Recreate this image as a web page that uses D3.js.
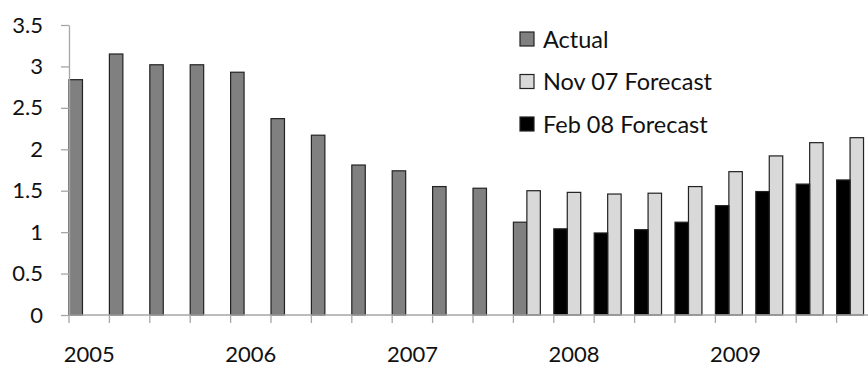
<!DOCTYPE html>
<html>
<head>
<meta charset="utf-8">
<script src="https://cdn.jsdelivr.net/npm/d3@7"></script>
<style>
  html, body { margin: 0; padding: 0; background: #fff; }
  svg { display: block; }
  text { font-family: Lato, "Open Sans", sans-serif; fill: #111; }
</style>
</head>
<body>
<svg id="chart" width="868" height="366"></svg>
<script>
// Quarterly series, 2005 Q1 .. 2009 Q4
const quarters = [
  "2005Q1","2005Q2","2005Q3","2005Q4",
  "2006Q1","2006Q2","2006Q3","2006Q4",
  "2007Q1","2007Q2","2007Q3","2007Q4",
  "2008Q1","2008Q2","2008Q3","2008Q4",
  "2009Q1","2009Q2","2009Q3","2009Q4"
];
const yearLabels = [
  "2005","","","",
  "2006","","","",
  "2007","","","",
  "2008","","","",
  "2009","","",""
];
const actual = [2.84, 3.15, 3.02, 3.02, 2.93, 2.37, 2.17, 1.81, 1.74, 1.55, 1.53, 1.12,
                null, null, null, null, null, null, null, null];
const nov07 = [null, null, null, null, null, null, null, null, null, null, null, 1.50,
               1.48, 1.46, 1.47, 1.55, 1.73, 1.92, 2.08, 2.14];
const feb08 = [null, null, null, null, null, null, null, null, null, null, null, null,
               1.04, 0.99, 1.03, 1.12, 1.32, 1.49, 1.58, 1.63];
const yTicks = [0, 0.5, 1, 1.5, 2, 2.5, 3, 3.5];

const seriesNames = ["Actual", "Nov 07 Forecast", "Feb 08 Forecast"];
const seriesColors = ["#808080", "#d9d9d9", "#000000"];

const svg = d3.select("#chart");
const plotLeft = 69, plotRight = 877, plotTop = 25, plotBottom = 315;

const x = d3.scaleBand().domain(quarters).range([plotLeft, plotRight]).padding(0);
// three slots per quarter: first slot shared by actual and Feb 08, second for Nov 07
const slot = d3.scaleBand().domain(["a", "b", "c"]).range([0, x.bandwidth()]).padding(0);
const y = d3.scaleLinear().domain([0, 3.5]).range([plotBottom, plotTop]);
const idx = d3.scaleLinear().domain([0, quarters.length]).range([plotLeft, plotRight]);

// bars
const layers = [
  { name: seriesNames[0], values: actual, color: seriesColors[0], slot: "a" },
  { name: seriesNames[1], values: nov07, color: seriesColors[1], slot: "b" },
  { name: seriesNames[2], values: feb08, color: seriesColors[2], slot: "a" }
];
layers.forEach(layer => {
  const pts = quarters.map((q, i) => ({ q, v: layer.values[i] })).filter(d => d.v != null);
  svg.append("g")
    .selectAll("rect")
    .data(pts)
    .join("rect")
    .attr("x", d => x(d.q) + slot(layer.slot))
    .attr("y", d => y(d.v))
    .attr("width", slot.bandwidth())
    .attr("height", d => y(0) - y(d.v))
    .attr("fill", layer.color)
    .attr("stroke", "#222")
    .attr("stroke-width", 1.2);
});

// y axis
const yAxis = d3.axisLeft(y).tickValues(yTicks).tickSize(8).tickSizeOuter(0).tickPadding(18)
  .tickFormat(d => String(d));
const gy = svg.append("g").attr("transform", `translate(${plotLeft},0)`).call(yAxis);
gy.select(".domain").attr("stroke", "#a6a6a6").attr("stroke-width", 1.3);
gy.selectAll(".tick line").attr("stroke", "#a6a6a6").attr("stroke-width", 1.3);
gy.selectAll(".tick text").attr("font-size", 22).attr("font-family", "Lato, sans-serif").attr("fill", "#111");

// x axis: baseline, boundary ticks, year labels
svg.append("line")
  .attr("x1", plotLeft).attr("x2", 868)
  .attr("y1", y(0)).attr("y2", y(0))
  .attr("stroke", "#a6a6a6").attr("stroke-width", 1.3);
svg.append("g").selectAll("line")
  .data(d3.range(0, quarters.length + 1))
  .join("line")
  .attr("x1", d => idx(d)).attr("x2", d => idx(d))
  .attr("y1", y(0)).attr("y2", y(0) + 8)
  .attr("stroke", "#a6a6a6").attr("stroke-width", 1.3);
svg.append("g").selectAll("text")
  .data(quarters.map((q, i) => ({ q, label: yearLabels[i] })).filter(d => d.label))
  .join("text")
  .attr("x", d => x(d.q) + x.bandwidth() / 2)
  .attr("y", 362)
  .attr("text-anchor", "middle")
  .attr("font-size", 22)
  .text(d => d.label);

// legend
const legend = svg.append("g").attr("transform", "translate(520,32)");
seriesNames.forEach((name, i) => {
  const g = legend.append("g").attr("transform", `translate(0,${i * 42.5})`);
  g.append("rect").attr("width", 14).attr("height", 14)
    .attr("fill", seriesColors[i]).attr("stroke", "#222").attr("stroke-width", 1.2);
  g.append("text").attr("x", 23).attr("y", 15.5).attr("font-size", 23.5).text(name);
});
</script>
</body>
</html>
